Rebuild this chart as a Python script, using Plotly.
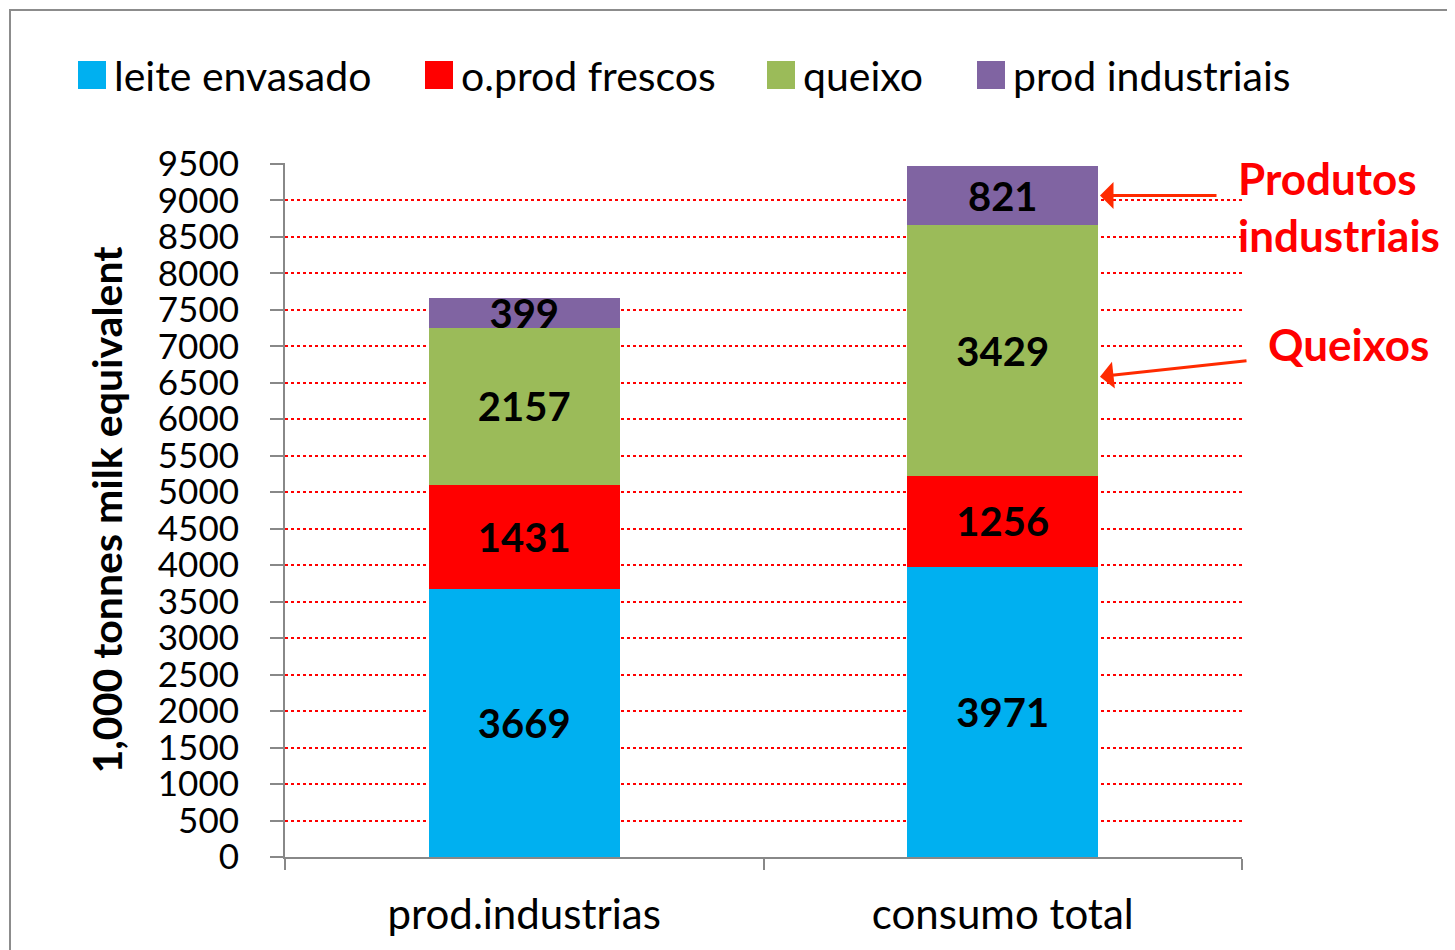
import plotly.graph_objects as go

categories = ["prod.industrias", "consumo total"]
series_names = ["leite envasado", "o.prod frescos", "queixo", "prod industriais"]
leite_envasado = [3669, 3971]
o_prod_frescos = [1431, 1256]
queixo = [2157, 3429]
prod_industriais = [399, 821]
y_ticks = list(range(0, 9501, 500))

colours = ["#00B0F0", "#FF0000", "#9BBB59", "#8064A2"]
font_name = "Lato"

fig = go.Figure()
for name, values, colour in zip(series_names,
                                [leite_envasado, o_prod_frescos, queixo, prod_industriais],
                                colours):
    fig.add_trace(go.Bar(
        x=categories,
        y=values,
        name=name,
        showlegend=False,
        marker=dict(color=colour, line=dict(width=0)),
        text=values,
        texttemplate="<b>%{text}</b>",
        textposition="inside",
        insidetextanchor="middle",
        textangle=0,
        textfont=dict(size=40, color="black", family=font_name),
    ))


# legend drawn by hand so the swatches are as large as in the original
def px_x(px):
    return (px - 285) / 957


def px_y(py):
    return (857 - py) / 694


legend_x = [78, 425, 767, 977]
for name, colour, lx in zip(series_names, colours, legend_x):
    fig.add_shape(type="rect", xref="paper", yref="paper",
                  x0=px_x(lx), x1=px_x(lx + 28), y0=px_y(89), y1=px_y(61),
                  fillcolor=colour, line=dict(width=0))
    fig.add_annotation(x=px_x(lx + 34), y=px_y(75), xref="paper", yref="paper",
                       xanchor="left", yanchor="middle", showarrow=False, text=name,
                       font=dict(size=41, family=font_name, color="black"))

# arrows pointing at the segments of the second bar
top_frescos = [a + b for a, b in zip(leite_envasado, o_prod_frescos)]
mid_ind = top_frescos[1] + queixo[1] + prod_industriais[1] / 2

arrow_colour = "#FF2A00"
fig.add_annotation(x=px_x(1100), y=mid_ind, xref="paper", yref="y", ax=118, ay=0,
                   showarrow=True, arrowhead=1, arrowsize=1.5, arrowwidth=3,
                   arrowcolor=arrow_colour, text="")
fig.add_annotation(x=px_x(1100), y=6584, xref="paper", yref="y", ax=148, ay=-16,
                   showarrow=True, arrowhead=1, arrowsize=1.5, arrowwidth=3,
                   arrowcolor=arrow_colour, text="")
fig.add_annotation(x=px_x(1236), y=px_y(206), xref="paper", yref="paper",
                   xanchor="left", yanchor="middle", showarrow=False, align="left",
                   text="<b>Produtos<br>industriais</b>",
                   font=dict(size=44, color="#FF0000", family=font_name))
fig.add_annotation(x=px_x(1266), y=px_y(344), xref="paper", yref="paper",
                   xanchor="left", yanchor="middle", showarrow=False, align="left",
                   text="<b>Queixos</b>",
                   font=dict(size=44, color="#FF0000", family=font_name))

# outer chart border
fig.add_shape(type="rect", xref="paper", yref="paper",
              x0=px_x(10), x1=px_x(1480), y0=px_y(980), y1=px_y(10),
              line=dict(color="#8C8C8C", width=2), fillcolor="rgba(0,0,0,0)", layer="below")

fig.update_layout(
    barmode="stack",
    bargap=0.6,
    width=1455, height=950,
    margin=dict(l=277, r=221, t=155, b=101),
    paper_bgcolor="white", plot_bgcolor="white",
    font=dict(family=font_name, color="black"),
    uniformtext=dict(minsize=40, mode="show"),
    showlegend=False,
)
fig.update_yaxes(range=[0, 9512], tickvals=y_ticks, ticktext=[str(v) for v in y_ticks],
                 showgrid=True, gridcolor="#FF0000", griddash="dot", gridwidth=2,
                 zeroline=False, showline=True, linecolor="#888888", linewidth=2,
                 ticks="outside", ticklen=13, tickwidth=2, tickcolor="#888888",
                 ticklabelstandoff=24,
                 tickfont=dict(size=35, family=font_name, color="black"),
                 title=dict(text="<b>1,000 tonnes milk equivalent</b>", standoff=22,
                            font=dict(size=41, family=font_name, color="black")))
fig.update_xaxes(showline=True, linecolor="#888888", linewidth=2, tickson="boundaries",
                 ticks="outside", ticklen=11, tickwidth=2, tickcolor="#888888",
                 ticklabelstandoff=20,
                 tickfont=dict(size=42, family=font_name, color="black"))

fig.write_html("out.html")
